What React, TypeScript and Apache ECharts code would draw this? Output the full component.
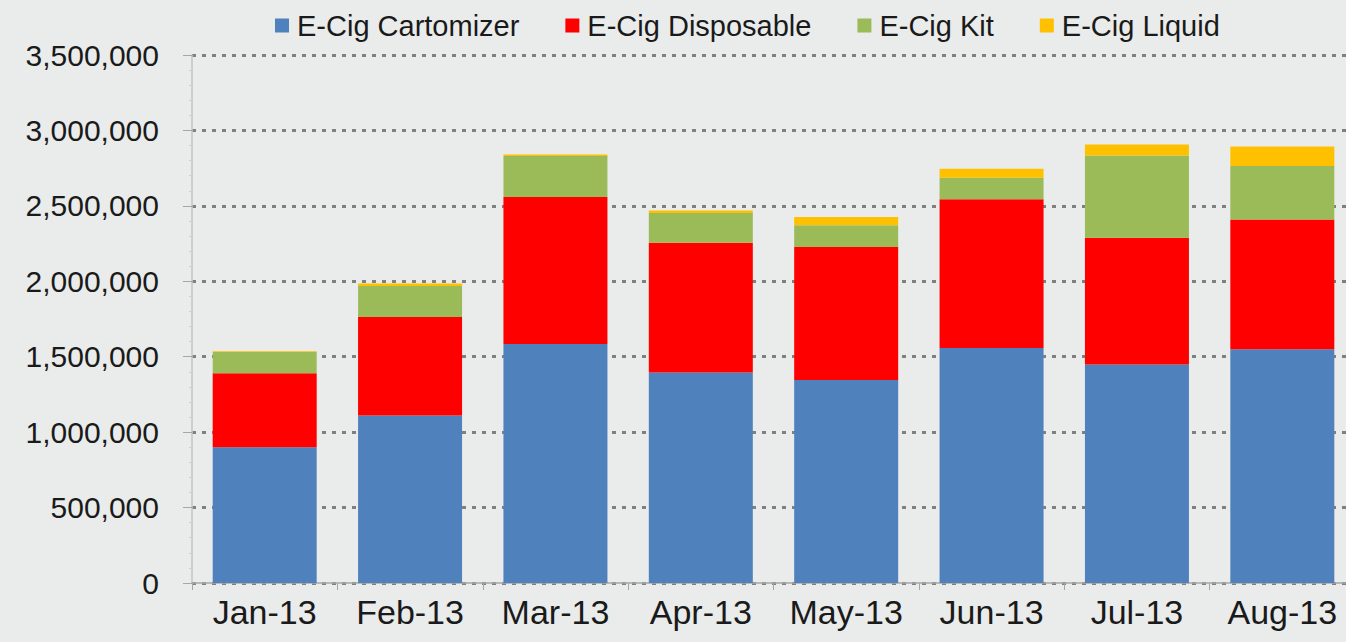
import React, { useEffect, useRef } from "react";
import * as echarts from "echarts";

const categories = ["Jan-13", "Feb-13", "Mar-13", "Apr-13", "May-13", "Jun-13", "Jul-13", "Aug-13"];
const cartomizer = [900000, 1110000, 1585000, 1395000, 1345000, 1558000, 1448000, 1550000];
const disposable = [490000, 654000, 973000, 861000, 882000, 985000, 841000, 859000];
const kit = [142000, 205000, 272000, 196000, 144000, 144000, 545000, 355000];
const liquid = [5000, 16000, 11000, 18000, 55000, 59000, 73000, 130000];

const seriesNames = ["E-Cig Cartomizer", "E-Cig Disposable", "E-Cig Kit", "E-Cig Liquid"];
const seriesColors = ["#4f81bd", "#ff0000", "#9bbb59", "#ffc000"];
const seriesData = [cartomizer, disposable, kit, liquid];

const FONT = "'Liberation Sans', Arial, sans-serif";

export default function App() {
  const ref = useRef<HTMLDivElement>(null);
  useEffect(() => {
    if (!ref.current) return;
    const chart = echarts.init(ref.current, null, { renderer: "svg" });
    chart.setOption({
      animation: false,
      backgroundColor: "#eaeceb",
      textStyle: { fontFamily: FONT },
      legend: {
        top: 6,
        left: 270,
        itemWidth: 14,
        itemHeight: 14,
        itemGap: 46,
        icon: "rect",
        textStyle: { fontSize: 29, color: "#1a1a1a", fontFamily: FONT, padding: [0, 0, 0, 3] },
        data: seriesNames,
      },
      grid: { left: 192, right: 0, top: 55, bottom: 59 },
      xAxis: {
        type: "category",
        data: categories,
        axisLine: { lineStyle: { color: "#a6a6a6", width: 1.5 } },
        axisTick: { show: true, length: 7, lineStyle: { color: "#a6a6a6" } },
        axisLabel: { fontSize: 34, color: "#1a1a1a", margin: 12, interval: 0 },
      },
      yAxis: {
        type: "value",
        min: 0,
        max: 3500000,
        interval: 500000,
        axisLine: { show: true, lineStyle: { color: "#c4c4c4", width: 1.5 } },
        axisTick: { show: true, length: 9, lineStyle: { color: "#a6a6a6" } },
        minorTick: { show: true, splitNumber: 5, length: 3, lineStyle: { color: "#cfcfcf" } },
        axisLabel: {
          fontSize: 30,
          color: "#1a1a1a",
          margin: 33,
          formatter: (v: number) => v.toLocaleString("en-US"),
        },
        splitLine: { show: true, lineStyle: { color: "#808080", width: 3, type: [4, 6] } },
      },
      series: seriesNames.map((name, i) => ({
        name,
        type: "bar",
        stack: "total",
        barWidth: 104,
        itemStyle: { color: seriesColors[i] },
        data: seriesData[i],
      })),
    });
    return () => chart.dispose();
  }, []);
  return (
    <div
      style={{
        position: "absolute",
        left: 0,
        top: 0,
        width: 1346,
        height: 642,
        overflow: "hidden",
        background: "#eaeceb",
      }}
    >
      <div ref={ref} style={{ width: 1355, height: 642 }} />
    </div>
  );
}
